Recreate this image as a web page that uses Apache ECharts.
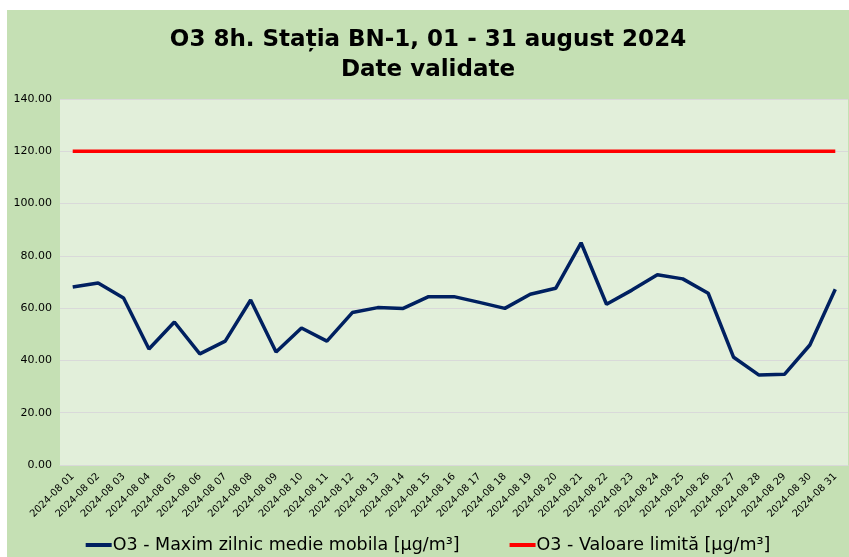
<!DOCTYPE html>
<html>
<head>
<meta charset="utf-8">
<script src="https://cdn.jsdelivr.net/npm/echarts@6/dist/echarts.min.js"></script>
<style>
  html, body { margin: 0; padding: 0; background: #fff; }
  #chart { position: absolute; left: 7px; top: 10px; width: 842px; height: 547px; }
</style>
</head>
<body>
<div id="chart"></div>
<script>
// zile august 2024
var zile = [];
for (var d = 1; d <= 31; d++) {
  zile.push('2024-08 ' + (d < 10 ? '0' + d : d));
}
// O3 - maxim zilnic medie mobila 8h
var o3_max = [68.1, 69.6, 63.9, 44.4, 54.7, 42.5, 47.4, 63.1, 43.2, 52.4,
              47.4, 58.3, 60.2, 59.9, 64.4, 64.4, 62.2, 59.9, 65.3, 67.6,
              85.0, 61.5, 66.9, 72.8, 71.2, 65.7, 41.2, 34.4, 34.7, 45.9, 67.2];
// valoare limita
var limita = [];
for (var i = 0; i < zile.length; i++) limita.push(120);

var chart = echarts.init(document.getElementById('chart'));
var option = {
  backgroundColor: '#c5e0b4',
  animation: false,
  title: {
    text: 'O3 8h. Stația BN-1, 01 - 31 august 2024\nDate validate',
    left: 'center',
    top: 10,
    textStyle: {
      color: '#000',
      fontFamily: 'DejaVu Sans',
      fontSize: 23,
      fontWeight: 'bold',
      lineHeight: 30
    }
  },
  legend: {
    bottom: -2,
    left: 'center',
    itemWidth: 26,
    itemHeight: 4,
    itemGap: 50,
    icon: 'rect',
    textStyle: {
      color: '#000',
      fontFamily: 'DejaVu Sans',
      fontSize: 17.5,
      padding: [0, 0, 0, -4]
    },
    data: ['O3 - Maxim zilnic medie mobila [µg/m³]', 'O3 - Valoare limită [µg/m³]']
  },
  grid: {
    show: true,
    backgroundColor: '#e2efda',
    borderWidth: 0,
    left: 53,
    right: 1,
    top: 89,
    bottom: 92
  },
  xAxis: {
    type: 'category',
    boundaryGap: true,
    data: zile,
    axisLine: { show: true, lineStyle: { color: '#d9d9d9' } },
    axisTick: { show: false },
    axisLabel: {
      rotate: 45,
      interval: 0,
      color: '#000',
      fontFamily: 'DejaVu Sans',
      fontSize: 10,
      margin: 10
    }
  },
  yAxis: {
    type: 'value',
    min: 0,
    max: 140,
    interval: 20,
    axisLine: { show: false },
    axisTick: { show: false },
    axisLabel: {
      color: '#000',
      fontFamily: 'DejaVu Sans',
      fontSize: 11,
      margin: 8,
      formatter: function (v) { return v.toFixed(2); }
    },
    splitLine: { show: true, lineStyle: { color: '#d9d9d9', width: 1 } }
  },
  series: [
    {
      name: 'O3 - Maxim zilnic medie mobila [µg/m³]',
      type: 'line',
      data: o3_max,
      showSymbol: false,
      itemStyle: { color: '#002060' },
      lineStyle: { color: '#002060', width: 3.5 }
    },
    {
      name: 'O3 - Valoare limită [µg/m³]',
      type: 'line',
      data: limita,
      showSymbol: false,
      itemStyle: { color: '#ff0000' },
      lineStyle: { color: '#ff0000', width: 3.5 }
    }
  ]
};
chart.setOption(option);
</script>
</body>
</html>
